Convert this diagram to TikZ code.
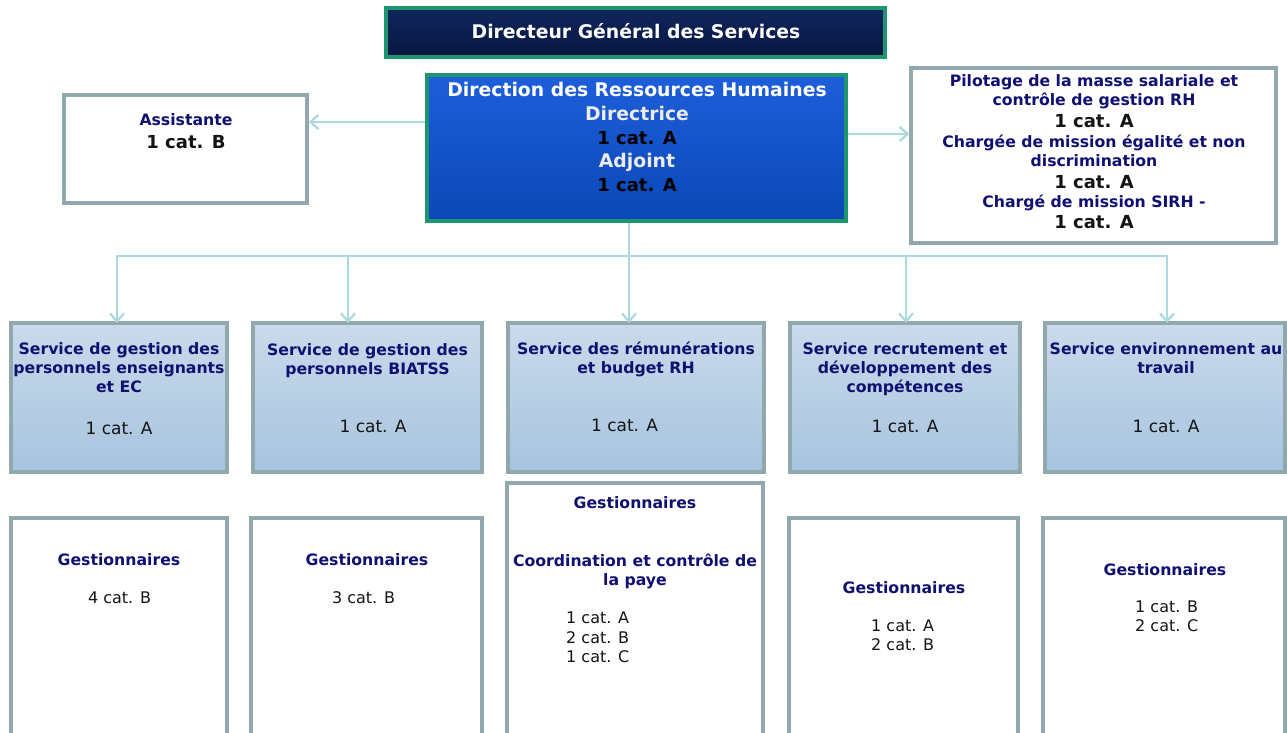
\documentclass[tikz,border=0pt]{standalone}
\usepackage{fontspec}
\setmainfont{DejaVu Sans}
\usetikzlibrary{arrows.meta,fit}
\definecolor{navyc}{RGB}{16,16,112}
\definecolor{blk}{RGB}{20,20,20}
\definecolor{boxgrey}{RGB}{145,168,172}
\definecolor{conncol}{RGB}{170,218,222}
\definecolor{grn}{RGB}{28,150,110}
\definecolor{dgstop}{RGB}{16,38,92}
\definecolor{dgsbot}{RGB}{6,22,66}
\definecolor{drhtop}{RGB}{30,94,218}
\definecolor{drhbot}{RGB}{10,72,182}
\definecolor{svctop}{RGB}{202,218,235}
\definecolor{svcbot}{RGB}{166,196,222}
\definecolor{lgrey}{RGB}{236,236,236}
\tikzset{
  gbox/.style={rectangle, draw=boxgrey, line width=3.5pt, fill=white, inner sep=0pt},
  svc/.style={gbox, top color=svctop, bottom color=svcbot},
  gbx/.style={rectangle, draw=grn, line width=3.5pt, inner sep=0pt},
  conn/.style={draw=conncol, line width=2.2pt},
  arr/.style={conn, -{Straight Barb[length=8pt,width=14pt,line width=2.2pt]}},
  txt/.style={inner sep=0pt, anchor=base},
  ltx/.style={inner sep=0pt, anchor=base west},
  nv/.style={text=navyc},
  bk/.style={text=blk},
  bD/.style={font=\fontsize{18.8}{21}\selectfont\bfseries},
  bA/.style={font=\fontsize{18}{20}\selectfont\bfseries},
  bB/.style={font=\fontsize{15.7}{18}\selectfont\bfseries},
  bC/.style={font=\fontsize{15.7}{18}\selectfont\bfseries},
  rA/.style={font=\fontsize{17}{20}\selectfont},
  rB/.style={font=\fontsize{16}{19}\selectfont}
}
\begin{document}
\begin{tikzpicture}[x=1pt,y=-1pt]
\useasboundingbox (0,0) rectangle (1287,733);
\fill[white] (0,0) rectangle (1287,733);
\clip (0,0) rectangle (1287,733);

% boxes
\node[gbx, top color=dgstop, bottom color=dgsbot, fit={(386,8) (885,57)}] (dgs) {};
\node[gbx, top color=drhtop, bottom color=drhbot, fit={(427,75) (846,221)}] (drh) {};
\node[gbox, fit={(64,95) (307,203)}] (asst) {};
\node[gbox, fit={(911,68) (1276,243)}] (pil) {};

\node[svc, fit={(11,323) (227,472)}] (s1) {};
\node[svc, fit={(253,323) (482,472)}] (s2) {};
\node[svc, fit={(508,323) (764,472)}] (s3) {};
\node[svc, fit={(790,323) (1020,472)}] (s4) {};
\node[svc, fit={(1045,323) (1285,472)}] (s5) {};

\node[gbox, fit={(11,518) (227,745)}] (b1) {};
\node[gbox, fit={(251,518) (482,745)}] (b2) {};
\node[gbox, fit={(507,483) (763,745)}] (b3) {};
\node[gbox, fit={(789,518) (1018,745)}] (b4) {};
\node[gbox, fit={(1043,518) (1285,745)}] (b5) {};

% connectors
\coordinate (ya) at (0,122);
\coordinate (yp) at (0,134);
\draw[arr] (drh.west |- ya) -- (asst.east |- ya);
\draw[arr] (drh.east |- yp) -- (pil.west |- yp);
\coordinate (t1) at (117,323);
\coordinate (t2) at (348,323);
\coordinate (t3) at (629,323);
\coordinate (t4) at (906,323);
\coordinate (t5) at (1167,323);
\coordinate (busL) at (117,256);
\coordinate (busR) at (1167,256);
\draw[conn] (t3 |- drh.south) -- (t3 |- busL);
\draw[conn, line cap=round] (busL) -- (busR);
\foreach \i in {1,...,5} { \draw[arr] (t\i |- busL) -- (t\i); }

% texts top
\node[txt, bD, text=white] (dgsT) at (636,39) {Directeur Général des Services};
\node[txt, bD, text=white] (drh1) at (637,97) {Direction des Ressources Humaines};
\node[txt, bD, text=lgrey] (drh2) at (637,120.5) {Directrice};
\node[txt, bA, text=black] (drh3) at (637,144) {1 cat. A};
\node[txt, bD, text=lgrey] (drh4) at (637,167.5) {Adjoint};
\node[txt, bA, text=black] (drh5) at (637,191) {1 cat. A};

\node[txt, bB, nv] (as1) at (186,126) {Assistante};
\node[txt, bA, bk] (as2) at (186,148) {1 cat. B};

\node[txt, bB, nv] (p1) at (1094,86.5) {Pilotage de la masse salariale et};
\node[txt, bB, nv] (p2) at (1094,105.5) {contrôle de gestion RH};
\node[txt, bA, bk] (p3) at (1094,128) {1 cat. A};
\node[txt, bB, nv] (p4) at (1094,147) {Chargée de mission égalité et non};
\node[txt, bB, nv] (p5) at (1094,166) {discrimination};
\node[txt, bA, bk] (p6) at (1094,188) {1 cat. A};
\node[txt, bB, nv] (p7) at (1094,207) {Chargé de mission SIRH -};
\node[txt, bA, bk] (p8) at (1094,228) {1 cat. A};

% services
\node[txt, bB, nv] (s1a) at (119,354.5) {Service de gestion des};
\node[txt, bB, nv] (s1b) at (119,373.5) {personnels enseignants};
\node[txt, bB, nv] (s1c) at (119,392.5) {et EC};
\node[txt, rA, bk] (s1d) at (119,434) {1 cat. A};

\node[txt, bB, nv] (s2a) at (367.5,355.5) {Service de gestion des};
\node[txt, bB, nv] (s2b) at (367.5,374.5) {personnels BIATSS};
\node[txt, rA, bk] (s2d) at (373,432.5) {1 cat. A};

\node[txt, bB, nv] (s3a) at (636,354.5) {Service des rémunérations};
\node[txt, bB, nv] (s3b) at (636,373.5) {et budget RH};
\node[txt, rA, bk] (s3d) at (624.5,431.5) {1 cat. A};

\node[txt, bB, nv] (s4a) at (905,354.5) {Service recrutement et};
\node[txt, bB, nv] (s4b) at (905,373.5) {développement des};
\node[txt, bB, nv] (s4c) at (905,392.5) {compétences};
\node[txt, rA, bk] (s4d) at (905,432) {1 cat. A};

\node[txt, bB, nv] (s5a) at (1166,354.5) {Service environnement au};
\node[txt, bB, nv] (s5b) at (1166,373.5) {travail};
\node[txt, rA, bk] (s5d) at (1166,432.5) {1 cat. A};

% bottom
\node[txt, bC, nv] (g1) at (119,565.5) {Gestionnaires};
\node[txt, rB, bk] (g1a) at (119.5,603.5) {4 cat. B};

\node[txt, bC, nv] (g2) at (367,565.5) {Gestionnaires};
\node[txt, rB, bk] (g2a) at (363.5,603.5) {3 cat. B};

\node[txt, bC, nv] (g3) at (635,508.5) {Gestionnaires};
\node[txt, bB, nv] (g3b) at (635,566.5) {Coordination et contrôle de};
\node[txt, bB, nv] (g3c) at (635,585.5) {la paye};
\node[ltx, rB, bk] (g3d) at (566,623.5) {1 cat. A};
\node[ltx, rB, bk] (g3e) at (566,643) {2 cat. B};
\node[ltx, rB, bk] (g3f) at (566,662.5) {1 cat. C};

\node[txt, bC, nv] (g4) at (904,593.5) {Gestionnaires};
\node[ltx, rB, bk] (g4a) at (871,631.5) {1 cat. A};
\node[ltx, rB, bk] (g4b) at (871,650.5) {2 cat. B};

\node[txt, bC, nv] (g5) at (1165,575) {Gestionnaires};
\node[ltx, rB, bk] (g5a) at (1135,612.5) {1 cat. B};
\node[ltx, rB, bk] (g5b) at (1135,631.5) {2 cat. C};
\end{tikzpicture}
\end{document}
